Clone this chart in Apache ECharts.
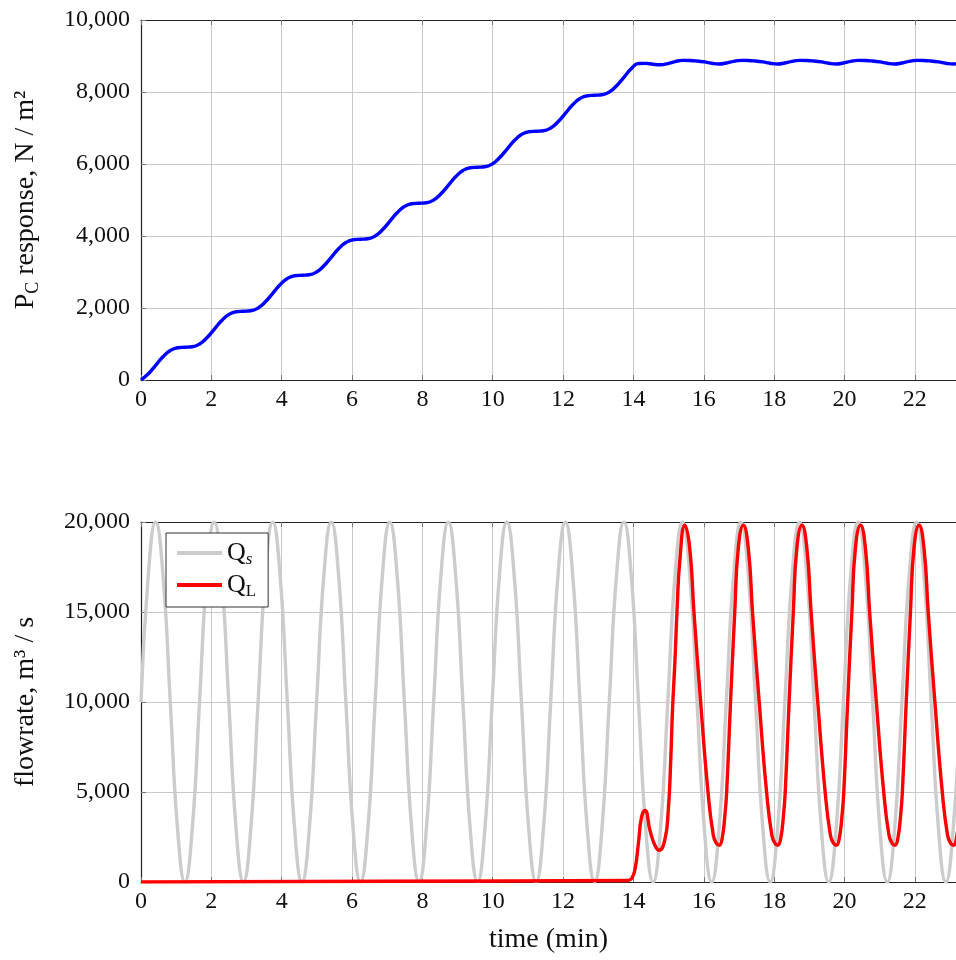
<!DOCTYPE html>
<html><head><meta charset="utf-8">
<script src="https://cdn.jsdelivr.net/npm/echarts@6/dist/echarts.min.js"></script>
<style>html,body{margin:0;padding:0;background:#fff}#c{width:956px;height:960px}</style>
</head><body><div id="c"></div>
<script>
// time samples (min) for Qs and Pc
const timeGrid = [0,0.208,0.416,0.624,0.832,1.04,1.248,1.456,1.664,1.872,2.08,2.288,2.496,2.704,2.912,3.12,3.328,3.536,3.744,3.952,4.16,4.368,4.576,4.784,4.992,5.2,5.408,5.616,5.824,6.032,6.24,6.448,6.656,6.864,7.072,7.28,7.488,7.696,7.904,8.112,8.32,8.528,8.736,8.944,9.152,9.36,9.568,9.776,9.984,10.192,10.4,10.608,10.816,11.024,11.232,11.44,11.648,11.856,12.064,12.272,12.48,12.688,12.896,13.104,13.312,13.52,13.728,13.936,14.144,14.352,14.56,14.768,14.976,15.184,15.392,15.6,15.808,16.016,16.224,16.432,16.64,16.848,17.056,17.264,17.472,17.68,17.888,18.096,18.304,18.512,18.72,18.928,19.136,19.344,19.552,19.76,19.968,20.176,20.384,20.592,20.8,21.008,21.216,21.424,21.632,21.84,22.048,22.256,22.464,22.672,22.88,23.088,23.296];
// P_C response, N/m^2
const pcValues = [0,172,409,646,818,896,909,922,
1000,1172,1409,1646,1818,1896,1909,1922,
2000,2172,2409,2646,2818,2896,2909,2922,
3000,3172,3409,3646,3818,3896,3909,3922,
4000,4172,4409,4646,4818,4896,4909,4922,
5000,5172,5409,5646,5818,5896,5909,5922,
6000,6172,6409,6646,6818,6896,6909,6922,
7000,7172,7409,7646,7818,7896,7909,7922,
8000,8172,8409,8646,8790,8795,8770,8758,
8790,8845,8878,8875,8860,8835,8800,8778,
8805,8850,8878,8875,8860,8835,8800,8778,
8805,8850,8878,8875,8860,8835,8800,8778,
8805,8850,8878,8875,8860,8835,8800,8778,
8805,8850,8878,8875,8860,8835,8800,8778,
8805];
// Q_s flowrate
const qsValues = [10000,17070,20000,17070,10000,2930,0,2930,
10000,17070,20000,17070,10000,2930,0,2930,
10000,17070,20000,17070,10000,2930,0,2930,
10000,17070,20000,17070,10000,2930,0,2930,
10000,17070,20000,17070,10000,2930,0,2930,
10000,17070,20000,17070,10000,2930,0,2930,
10000,17070,20000,17070,10000,2930,0,2930,
10000,17070,20000,17070,10000,2930,0,2930,
10000,17070,20000,17070,10000,2930,0,2930,
10000,17070,20000,17070,10000,2930,0,2930,
10000,17070,20000,17070,10000,2930,0,2930,
10000,17070,20000,17070,10000,2930,0,2930,
10000,17070,20000,17070,10000,2930,0,2930,
10000,17070,20000,17070,10000,2930,0,2930,
10000];
// Q_L flowrate
const qlTimes = [0,7,13.85,13.95,14.04,14.14,14.23,14.33,14.47,14.61,14.73,14.89,14.99,15.06,15.11,15.18,15.24,15.32,15.46,
15.60,15.72,15.91,16.12,16.27,16.36,16.44,16.52,16.60,16.65,16.76,16.88,16.98,17.125,
17.265,17.385,17.575,17.785,17.935,18.025,18.105,18.185,18.265,18.315,18.425,18.545,18.645,18.79,
18.93,19.05,19.24,19.45,19.60,19.69,19.77,19.85,19.93,19.98,20.09,20.21,20.31,20.455,
20.595,20.715,20.905,21.115,21.265,21.355,21.435,21.515,21.595,21.645,21.755,21.875,21.975,22.12,
22.26,22.38,22.57,22.78,22.93,23.02,23.10,23.18,23.26,23.31];
const qlValues = [0,40,80,200,650,2130,3610,3980,2870,2040,1760,2320,3980,6760,9540,12300,15100,17900,19820,
18540,15000,10000,5000,2600,2150,2040,2400,3700,5000,10000,15000,18540,19820,
18540,15000,10000,5000,2600,2150,2040,2400,3700,5000,10000,15000,18540,19820,
18540,15000,10000,5000,2600,2150,2040,2400,3700,5000,10000,15000,18540,19820,
18540,15000,10000,5000,2600,2150,2040,2400,3700,5000,10000,15000,18540,19820,
18540,15000,10000,5000,2600,2150,2040,2400,3700,5000];
const xTicks = [0,2,4,6,8,10,12,14,16,18,20,22];
const pcTicks = [0,2000,4000,6000,8000,10000];
const flowTicks = [0,5000,10000,15000,20000];

const FONT = 'Liberation Serif';
const X_MIN = 0, X_MAX = 23.17;
const chart = echarts.init(document.getElementById('c'), null, {renderer:'canvas'});
const fmt = v => Number(v).toLocaleString('en-US');
const xFmt = v => xTicks.indexOf(Math.round(v*1000)/1000) >= 0 ? String(v) : '';
const richName = {
  m:{fontFamily:FONT,fontSize:28,color:'#111',lineHeight:32},
  s:{fontFamily:FONT,fontSize:18,color:'#111',lineHeight:16,verticalAlign:'bottom'}
};
const richLeg = {
  m:{fontFamily:FONT,fontSize:26,color:'#111',lineHeight:30},
  s:{fontFamily:FONT,fontSize:17,color:'#111',lineHeight:15,verticalAlign:'bottom'},
  si:{fontFamily:FONT,fontSize:17,color:'#111',lineHeight:15,verticalAlign:'bottom',fontStyle:'italic'}
};
const gridColor = '#c9c9c9';
function bottomX(gi, name){
  return {gridIndex:gi,type:'value',min:X_MIN,max:X_MAX,interval:2,position:'bottom',
    axisLine:{show:true,onZero:false,lineStyle:{color:'#222',width:1.2}},
    axisTick:{show:true,inside:true,length:5,lineStyle:{color:'#777'}},
    axisLabel:{show:true,formatter:xFmt,showMaxLabel:false,margin:8,fontFamily:FONT,fontSize:24,color:'#111'},
    splitLine:{show:true,lineStyle:{color:gridColor,width:1}},
    name:name||'',nameLocation:'middle',nameGap:44,
    nameTextStyle:{fontFamily:FONT,fontSize:28,color:'#111'}};
}
function topX(gi){
  return {gridIndex:gi,type:'value',min:X_MIN,max:X_MAX,interval:2,position:'top',
    axisLine:{show:true,onZero:false,lineStyle:{color:'#222',width:1.2}},
    axisTick:{show:true,inside:true,length:5,lineStyle:{color:'#777'}},
    axisLabel:{show:false},splitLine:{show:false}};
}
function leftY(gi, max, interval, name){
  return {gridIndex:gi,type:'value',min:0,max:max,interval:interval,
    axisLine:{show:true,lineStyle:{color:'#222',width:1.2}},
    axisTick:{show:true,inside:true,length:5,lineStyle:{color:'#777'}},
    axisLabel:{formatter:fmt,margin:11,fontFamily:FONT,fontSize:24,color:'#111'},
    splitLine:{show:true,lineStyle:{color:gridColor,width:1}},
    name:name,nameLocation:'middle',nameGap:99,nameRotate:90,
    nameTextStyle:{rich:richName}};
}
const pairs = (ts, vs) => ts.map((t,i)=>[t, vs[i]]);

chart.setOption({
  animation:false,
  backgroundColor:'#fff',
  textStyle:{fontFamily:FONT},
  grid:[
    {left:141,top:20,right:0,height:360,containLabel:false},
    {left:141,top:522,right:0,height:360,containLabel:false}
  ],
  xAxis:[bottomX(0,''), topX(0), bottomX(1,'time (min)'), topX(1)],
  yAxis:[
    leftY(0,10000,2000,'{m|P}{s|C}{m| response, N / m²}'),
    leftY(1,20000,5000,'{m|flowrate, m³ / s}')
  ],
  legend:{
    show:true, orient:'vertical', left:166, top:533,
    data:[{name:'Qs',icon:'rect'},{name:'QL',icon:'rect'}],
    itemWidth:45, itemHeight:4, itemGap:4,
    padding:[7,12,7,11],
    borderColor:'#333', borderWidth:1, backgroundColor:'#fff',
    formatter: n => n==='Qs' ? '{m|Q}{si|s}' : '{m|Q}{s|L}',
    textStyle:{rich:richLeg}
  },
  series:[
    {name:'Pc',type:'line',xAxisIndex:0,yAxisIndex:0,data:pairs(timeGrid,pcValues),
      smooth:0.5,symbol:'none',lineStyle:{color:'#0000ff',width:3.4},itemStyle:{color:'#0000ff'},z:3},
    {name:'Qs',type:'line',xAxisIndex:2,yAxisIndex:1,data:pairs(timeGrid,qsValues),
      smooth:0.5,symbol:'none',lineStyle:{color:'#cccccc',width:3.4},itemStyle:{color:'#cccccc'},z:2},
    {name:'QL',type:'line',xAxisIndex:2,yAxisIndex:1,data:pairs(qlTimes,qlValues),
      smooth:0.5,symbol:'none',lineStyle:{color:'#ff0000',width:3.4},itemStyle:{color:'#ff0000'},z:3}
  ]
});
</script></body></html>
